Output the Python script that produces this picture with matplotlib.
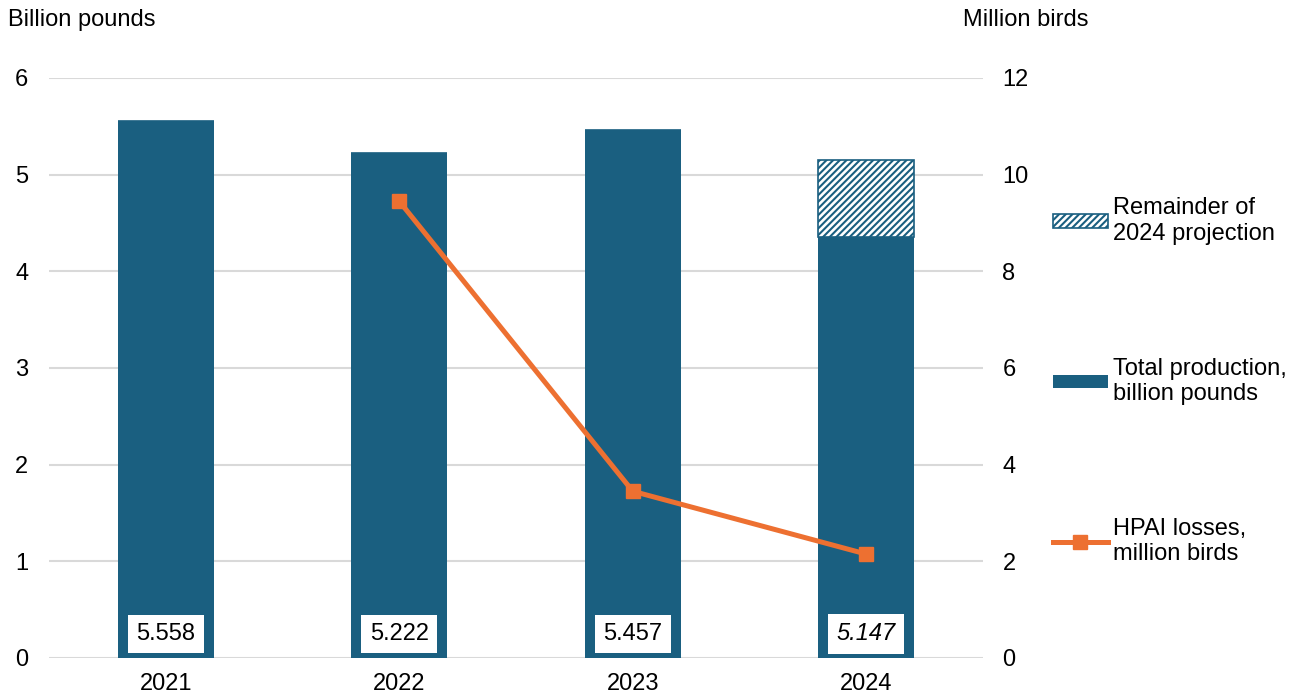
import matplotlib.pyplot as plt
from matplotlib.patches import Patch
from matplotlib.lines import Line2D

years = ["2021", "2022", "2023", "2024"]
production = [5.558, 5.222, 5.457, 4.355]
remainder = [0, 0, 0, 0.792]
total_labels = ["5.558", "5.222", "5.457", "5.147"]
hpai_years = ["2022", "2023", "2024"]
hpai_losses = [9.45, 3.45, 2.15]

blue = "#1a5f80"
orange = "#ed7031"
grid_col = "#d9d9d9"
fs = 17

plt.rcParams['font.family'] = ['Liberation Sans', 'DejaVu Sans']
plt.rcParams['font.size'] = fs
plt.rcParams['hatch.linewidth'] = 1.5

fig = plt.figure(figsize=(12.99, 6.98), dpi=100)
ax = fig.add_axes([49 / 1299, 40 / 698, 934 / 1299, 580 / 698])
ax2 = ax.twinx()

x = range(len(years))
ax.bar(x, production, width=0.41, color=blue, zorder=2)
ax.bar(x, remainder, width=0.41, bottom=production, facecolor="white",
       edgecolor=blue, hatch="/////", linewidth=1.2, zorder=2)

for i, lab in enumerate(total_labels):
    ax.text(i, 0.25, lab, ha="center", va="center", fontsize=fs,
            style="italic" if years[i] == "2024" else "normal",
            bbox=dict(boxstyle="square,pad=0.35", fc="white", ec="none"), zorder=3)

hx = [years.index(y) for y in hpai_years]
ax2.plot(hx, hpai_losses, color=orange, lw=3.6, marker="s", markersize=10, zorder=4)

ax.set_xlim(-0.5, 3.5)
ax.set_ylim(0, 6)
ax2.set_ylim(0, 12)
ax.set_yticks(range(0, 7))
ax2.set_yticks(range(0, 13, 2))
ax.set_xticks(list(x))
ax.set_xticklabels(years)
ax.yaxis.grid(True, color=grid_col, lw=1.5, zorder=0)
ax.set_axisbelow(True)
for a in (ax, ax2):
    for s in a.spines.values():
        s.set_visible(False)
ax.tick_params(axis="y", length=0, pad=15)
ax.tick_params(axis="x", length=0, pad=11)
ax2.tick_params(axis="y", length=0, pad=14)

fig.text(8 / 1299, 1 - 20 / 698, "Billion pounds", ha="left", va="center", fontsize=fs)
fig.text(963 / 1299, 1 - 20 / 698, "Million birds", ha="left", va="center", fontsize=fs)

handles = [Patch(facecolor="white", edgecolor=blue, hatch="/////", lw=1.2),
           Patch(facecolor=blue),
           Line2D([0], [0], color=orange, lw=3.6, marker="s", markersize=10)]
labels = ["Remainder of\n2024 projection", "Total production,\nbillion pounds",
          "HPAI losses,\nmillion birds"]
fig.legend(handles, labels, loc="upper left", bbox_to_anchor=(1032 / 1299, 1 - 176 / 698),
           frameon=False, handlelength=2.3, handleheight=0.5, handletextpad=0.25,
           labelspacing=4.78, fontsize=fs)

fig.savefig("out.png", dpi=100)
